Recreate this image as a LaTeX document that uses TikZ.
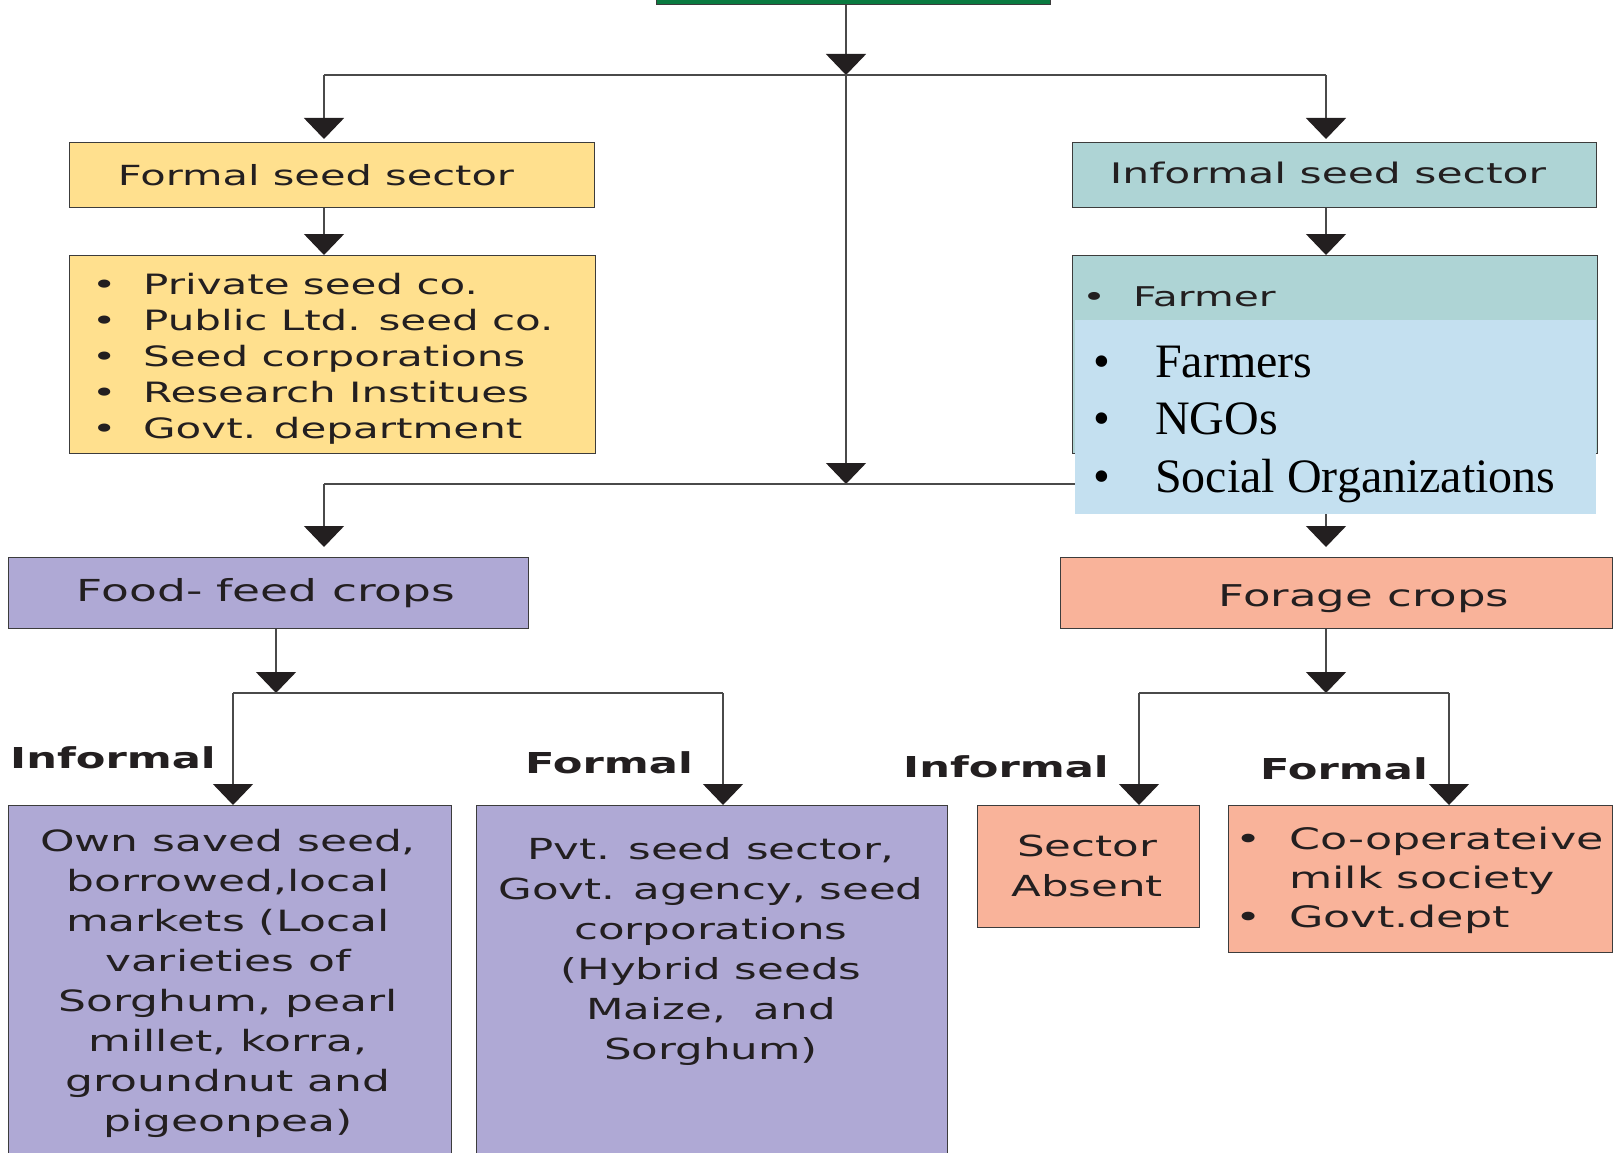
\documentclass[tikz,border=0pt]{standalone}
\usepackage{fontspec}
\setmainfont{DejaVu Sans}[FakeStretch=1.5]
\newfontfamily\tnr{Liberation Serif}
\usetikzlibrary{arrows.meta}
\definecolor{ink}{HTML}{231F20}
\definecolor{edgec}{HTML}{3C3C3C}
\definecolor{lineg}{HTML}{4A4A4A}
\definecolor{rootg}{HTML}{0A7A40}
\definecolor{yel}{HTML}{FFE08E}
\definecolor{tealbox}{HTML}{AED4D5}
\definecolor{sky}{HTML}{C4E0F0}
\definecolor{lav}{HTML}{AFA9D5}
\definecolor{salm}{HTML}{F9B39A}
\newcommand\mybul[1]{\makebox[#1pt][c]{\textbullet}}
\begin{document}
\begin{tikzpicture}[x=1pt,y=-1pt,
  box/.style={draw=edgec, line width=1.4pt, inner sep=0pt, anchor=north west},
  ln/.style={draw=lineg, line width=1.6pt},
  arr/.style={ln, -{Triangle[width=40pt,length=21pt,color=ink]}},
  txt/.style={text=ink, inner sep=0pt, anchor=base},
  lbl/.style={txt, font=\bfseries\fontsize{28.8}{33}\selectfont}]
\useasboundingbox (0,0) rectangle (1614,1153);
\clip (0,0) rectangle (1614,1153);

% boxes
\node[box, fill=rootg, minimum width=394, minimum height=60, anchor=south west] (root) at (656,5) {};
\node[box, fill=yel, minimum width=525, minimum height=65] (formal) at (69,142) {};
\node[box, fill=tealbox, minimum width=524, minimum height=65] (informal) at (1072,142) {};
\node[box, fill=yel, minimum width=526, minimum height=198] (flist) at (69,255) {};
\node[box, fill=tealbox, minimum width=525, minimum height=198] (farmer) at (1072,255) {};
\node[box, fill=lav, minimum width=520, minimum height=71] (food) at (8,557) {};
\node[box, fill=salm, minimum width=552, minimum height=71] (forage) at (1060,557) {};
\node[box, fill=lav, minimum width=443, minimum height=400] (own) at (8,805) {};
\node[box, fill=lav, minimum width=471, minimum height=400] (pvt) at (476,805) {};
\node[box, fill=salm, minimum width=222, minimum height=122] (absent) at (977,805) {};
\node[box, fill=salm, minimum width=384, minimum height=147] (coop) at (1228,805) {};

% junctions
\coordinate (j0) at (846,75);
\coordinate (hL) at (324,75);
\coordinate (hR) at (1326,75);
\coordinate (c2) at (846,484);
\coordinate (h2L) at (324,484);
\coordinate (h2R) at (1326,484);
\coordinate (j3) at (276,693);
\coordinate (h3L) at (233,693);
\coordinate (h3R) at (723,693);
\coordinate (j4) at (1326,693);
\coordinate (h4L) at (1139,693);
\coordinate (h4R) at (1449,693);

% connectors
\draw[arr] (root.south -| j0) -- (j0);
\draw[ln] (hL) -- (hR);
\draw[arr, shorten >=3pt] (hL) -- (hL |- formal.north);
\draw[arr, shorten >=3pt] (hR) -- (hR |- informal.north);
\draw[arr] (formal.south -| hL) -- (flist.north -| hL);
\draw[arr] (informal.south -| hR) -- (farmer.north -| hR);
\draw[arr] (j0) -- (c2);
\draw[ln] (h2L) -- (h2R);
\draw[arr, shorten >=10pt] (h2L) -- (h2L |- food.north);
\draw[arr, shorten >=10pt] (h2R) -- (h2R |- forage.north);
\draw[arr] (food.south -| j3) -- (j3);
\draw[ln] (h3L) -- (h3R);
\draw[arr] (h3L) -- (h3L |- own.north);
\draw[arr] (h3R) -- (h3R |- pvt.north);
\draw[arr] (forage.south -| j4) -- (j4);
\draw[ln] (h4L) -- (h4R);
\draw[arr] (h4L) -- (h4L |- absent.north);
\draw[arr] (h4R) -- (h4R |- coop.north);

% overlay
\node[inner sep=0pt, fill=sky, minimum width=521, minimum height=194, anchor=north west] (ovl) at (1075,320) {};

% texts
\node[txt, font=\fontsize{27.7}{36}\selectfont] (formalT) at (316,185) {Formal seed sector};
\node[txt, font=\fontsize{28.3}{36}\selectfont] (informalT) at (1328,183) {Informal seed sector};
\node[txt, anchor=base west, font=\fontsize{28}{36}\selectfont] (flistT) at (65,294)
  {\begin{tabular}[t]{@{}l@{}l@{}}
   \mybul{78}&Private seed co.\\
   \mybul{78}&Public Ltd. seed co.\\
   \mybul{78}&Seed corporations\\
   \mybul{78}&Research Institues\\
   \mybul{78}&Govt. department
   \end{tabular}};
\node[txt, anchor=base west, font=\fontsize{27.2}{36}\selectfont] (farmerT) at (1055,306) {\mybul{78}Farmer};
\node[txt, anchor=base west, text=black, font=\tnr\fontsize{48}{57.6}\selectfont] (ovlT) at (1049,377)
  {\begin{tabular}[t]{@{}l@{}l@{}}
   \mybul{106}&Farmers\\
   \mybul{106}&NGOs\\
   \mybul{106}&Social Organizations
   \end{tabular}};
\node[txt, font=\fontsize{30.3}{40}\selectfont] (foodT) at (266,601) {Food- feed crops};
\node[txt, font=\fontsize{30}{40}\selectfont] (forageT) at (1364,606) {Forage crops};
\node[lbl] (infL) at (113,768) {Informal};
\node[lbl] (forL) at (609,773) {Formal};
\node[lbl] (infR) at (1006,777) {Informal};
\node[lbl] (forR) at (1344,779) {Formal};
\node[txt, font=\fontsize{29.3}{40}\selectfont] (ownT) at (228,851)
  {\begin{tabular}[t]{@{}c@{}}
   Own saved seed,\\ borrowed,local\\ markets (Local\\ varieties of\\
   Sorghum, pearl\\ millet, korra,\\ groundnut and\\ pigeonpea)
   \end{tabular}};
\node[txt, font=\fontsize{29}{40}\selectfont] (pvtT) at (711,859)
  {\begin{tabular}[t]{@{}c@{}}
   Pvt. seed sector,\\ Govt. agency, seed\\ corporations\\ (Hybrid seeds\\
   Maize,\ \ and\\ Sorghum)
   \end{tabular}};
\node[txt, font=\fontsize{29}{40}\selectfont] (absentT) at (1087,856)
  {\begin{tabular}[t]{@{}c@{}}Sector\\ Absent\end{tabular}};
\node[txt, anchor=base west, font=\fontsize{29.6}{39}\selectfont] (coopT) at (1207,849)
  {\begin{tabular}[t]{@{}l@{}l@{}}
   \mybul{82}&Co-operateive\\
   &milk society\\
   \mybul{82}&Govt.dept
   \end{tabular}};
\end{tikzpicture}
\end{document}
